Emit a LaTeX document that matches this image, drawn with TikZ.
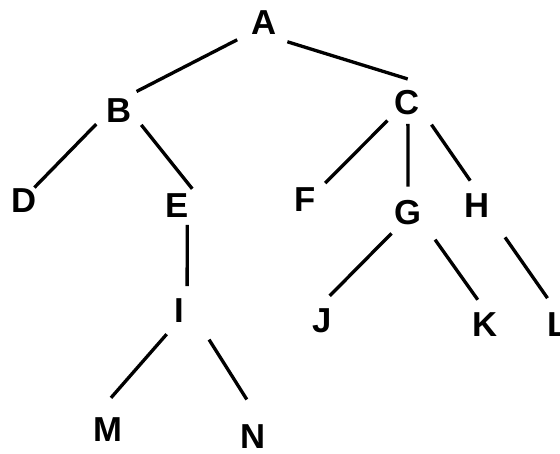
\documentclass[tikz,border=0pt]{standalone}
\usepackage{fontspec}
\setmainfont{Liberation Sans}
\begin{document}
\begin{tikzpicture}[x=0.75pt,y=-0.75pt,
  letter/.style={circle,inner sep=0pt,minimum size=39pt,font=\fontsize{26}{30}\selectfont\bfseries},
  branch/.style={line width=2.5pt}]
\useasboundingbox (0,0) rectangle (560,453);
\node[letter] (A) at (264,23) {A};
\node[letter] (B) at (119,111) {B};
\node[letter] (C) at (407,103) {C};
\node[letter] (D) at (24,201) {D};
\node[letter] (E) at (177,206) {E};
\node[letter] (F) at (305,200) {F};
\node[letter] (G) at (408,213) {G};
\node[letter] (H) at (477,206) {H};
\node[letter] (I) at (179,311) {I};
\node[letter] (J) at (322,321) {J};
\node[letter] (K) at (485,325) {K};
\node[letter] (L) at (558,325) {L};
\node[letter] (M) at (108,430) {M};
\node[letter] (N) at (253,437) {N};
\path[branch]
(A.213) edge [shorten <=4pt] (B.48)
(A.318) edge [shorten <=3pt, shorten >=-4.5pt] (C.101)
(B.210) edge [shorten >=-7pt] (D.50)
(B.328) edge [shorten >=-7pt] (E.69)
(C.222) edge (F.40)
(C.272) edge [shorten <=-4pt] (G.90)
(C.322) edge [shorten <=5pt] (H.105)
(E.293) edge [shorten <=-4pt] (I.72)
(G.231) edge (J.73)
(G.320) edge [shorten <=9pt] (K.106)
(H.316) edge [shorten <=12pt, shorten >=2pt] (L.110)
(I.242) edge [shorten >=6pt] (M.95)
(I.325) edge [shorten <=12pt, shorten >=10pt] (N.88)
;
\end{tikzpicture}
\end{document}
